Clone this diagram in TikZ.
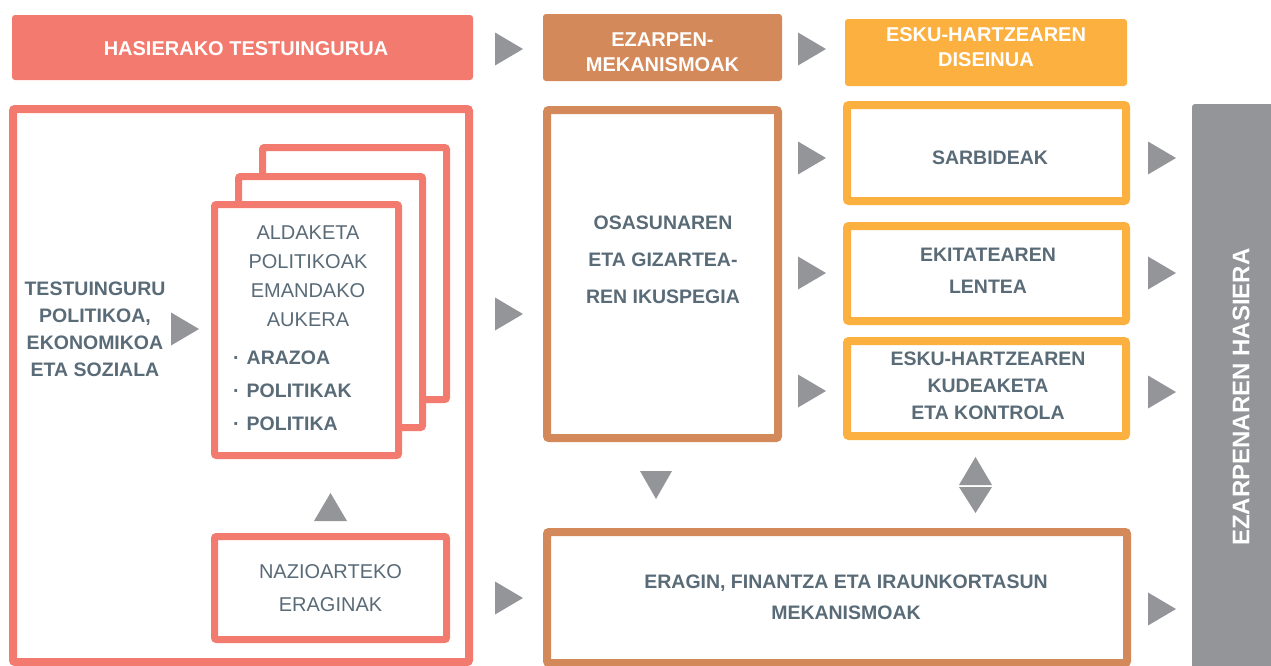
\documentclass[tikz,border=0pt]{standalone}
\usepackage{fontspec}
\setmainfont{Liberation Sans}
\usetikzlibrary{calc}
\definecolor{sal}{HTML}{F37A6E}
\definecolor{brn}{HTML}{D4895A}
\definecolor{org}{HTML}{FBB040}
\definecolor{gry}{HTML}{939598}
\definecolor{txt}{HTML}{5A6B78}
\newcommand{\FSz}[2]{\fontsize{#1}{#2}\selectfont}
\newcommand{\TriR}[2]{\fill[trifill] (#1-14,#2-16.5) -- (#1+14,#2) -- (#1-14,#2+16.5) -- cycle;}
\tikzset{
  trifill/.style={fill=gry},
  hdrbox/.style={rounded corners=3pt, inner sep=0pt, draw=none},
  hdrtxt/.style={text=white, font=\bfseries\FSz{20}{25}, align=center, inner sep=0pt},
  frame/.style={line width=8pt, rounded corners=2pt, fill=white, inner sep=0pt},
  btxt/.style={text=txt, font=\bfseries\FSz{19.5}{27}, align=center, inner sep=0pt},
  rtxt/.style={text=txt, font=\FSz{20}{29}, align=center, inner sep=0pt},
}
\begin{document}
\begin{tikzpicture}[x=1pt,y=-1pt]
\path[use as bounding box] (0,0) rectangle (1271,665);

% headers
\node[hdrbox, fill=sal, minimum width=461pt, minimum height=65pt] (h1) at (242.5,47.5) {};
\node[hdrtxt] (h1t) at (246,49) {HASIERAKO TESTUINGURUA};
\node[hdrbox, fill=brn, minimum width=239pt, minimum height=67pt] (h2) at (662.5,47.5) {};
\node[hdrtxt] (h2t) at (662.5,52.5) {EZARPEN-\\MEKANISMOAK};
\node[hdrbox, fill=org, minimum width=282pt, minimum height=67pt] (h3) at (986,52.5) {};
\node[hdrtxt] (h3t) at (986,47.5) {ESKU-HARTZEAREN\\DISEINUA};

% left big frame
\node[frame, draw=sal, minimum width=456pt, minimum height=553pt] (ctx) at (241,385.5) {};
\node[btxt] (ctxt) at (95,329.5) {TESTUINGURU\\POLITIKOA,\\EKONOMIKOA\\ETA SOZIALA};

% stacked pages
\node[frame, draw=sal, line width=7pt, minimum width=184pt, minimum height=252pt] (pg3) at (354.5,273.5) {};
\node[frame, draw=sal, line width=7pt, minimum width=184pt, minimum height=251pt] (pg2) at (330.5,302) {};
\node[frame, draw=sal, line width=7pt, minimum width=184pt, minimum height=251pt] (pg1) at (306.5,330) {};
\node[rtxt] (pgt) at (308,276.5) {ALDAKETA\\POLITIKOAK\\EMANDAKO\\AUKERA};
\node[text=txt, font=\bfseries\FSz{19.5}{33}, align=left, inner sep=0pt, anchor=west] (pgb) at (233,391)
  {·\hspace{7pt}ARAZOA\\·\hspace{7pt}POLITIKAK\\·\hspace{7pt}POLITIKA};

% international
\node[frame, draw=sal, line width=7pt, minimum width=232pt, minimum height=103pt, rtxt, font=\FSz{20}{33}] (naz) at (330.5,588) {NAZIOARTEKO\\ERAGINAK};

% middle
\node[frame, draw=brn, minimum width=231pt, minimum height=328pt] (osa) at (662.5,274) {};
\node[btxt, font=\bfseries\FSz{19.5}{37}] (osat) at (663,260) {OSASUNAREN\\ETA GIZARTEA-\\REN IKUSPEGIA};

% orange boxes
\node[frame, draw=org, minimum width=279pt, minimum height=96pt] (sar) at (986.5,153) {};
\node[btxt] (sart) at (990,158) {SARBIDEAK};
\node[frame, draw=org, minimum width=279pt, minimum height=95pt] (eki) at (986.5,273.5) {};
\node[btxt, font=\bfseries\FSz{19.5}{32}] (ekit) at (988,271) {EKITATEAREN\\LENTEA};
\node[frame, draw=org, minimum width=279pt, minimum height=95pt] (kud) at (986.5,388.5) {};
\node[btxt] (kudt) at (988,386) {ESKU-HARTZEAREN\\KUDEAKETA\\ETA KONTROLA};

% bottom box
\node[frame, draw=brn, minimum width=580pt, minimum height=131pt] (era) at (837,597.5) {};
\node[btxt, font=\bfseries\FSz{19.5}{31}] (erat) at (846,597.5) {ERAGIN,\ FINANTZA\ ETA IRAUNKORTASUN\\MEKANISMOAK};

% gray bar
\node[hdrbox, fill=gry, minimum width=88pt, minimum height=576pt] (bar) at (1236,392) {};
\node[hdrtxt, font=\bfseries\FSz{24}{28}, rotate=90] (bart) at (1241,397) {EZARPENAREN HASIERA};

% triangles
\TriR{509}{49}
\TriR{812}{49}
\TriR{185}{329}
\TriR{509}{314}
\TriR{812}{158}
\TriR{812}{273}
\TriR{812}{391}
\TriR{1162}{158}
\TriR{1162}{273}
\TriR{1162}{392}
\TriR{509}{598}
\TriR{1162}{609}
\fill[trifill] (330.5,493) -- (347,521) -- (314,521) -- cycle;
\fill[trifill] (640,471) -- (672,471) -- (656,499) -- cycle;
\fill[trifill] (975.5,457) -- (992,485) -- (959,485) -- cycle;
\fill[trifill] (959,487) -- (992,487) -- (975.5,513) -- cycle;
\end{tikzpicture}
\end{document}
